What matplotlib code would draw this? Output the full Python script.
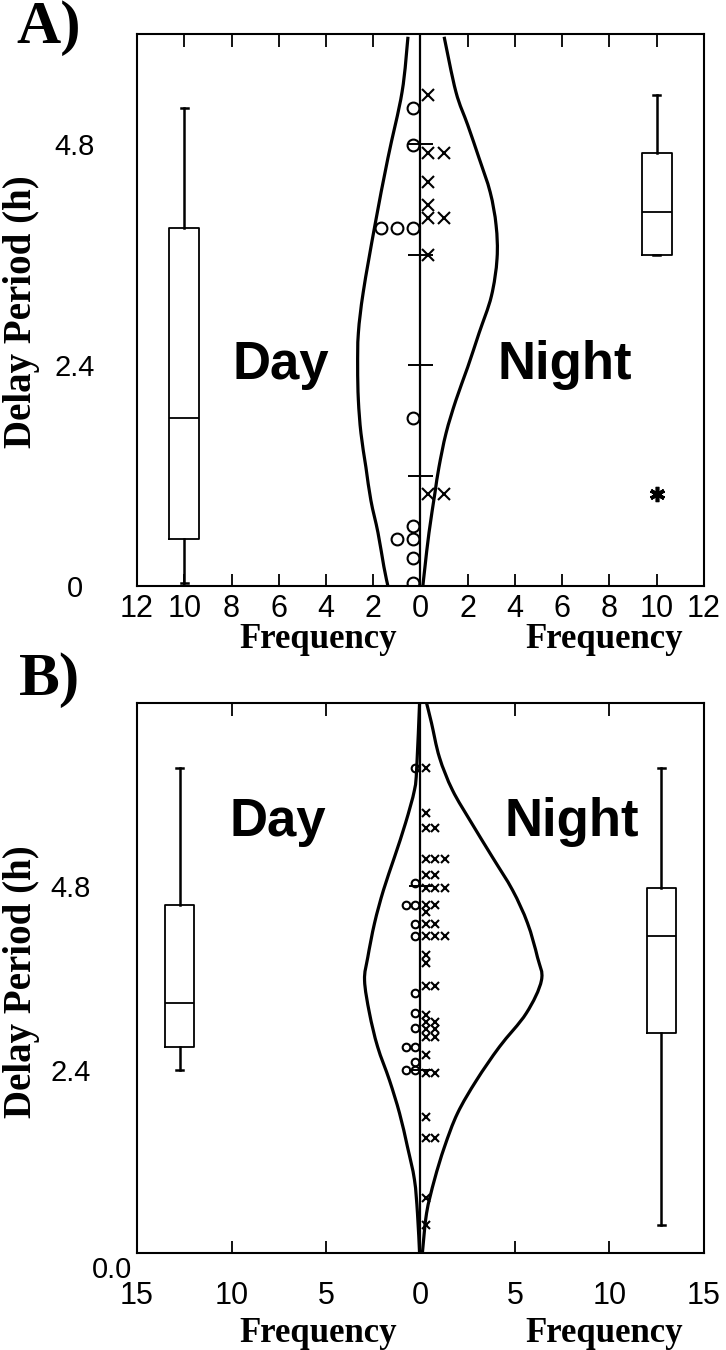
import numpy as np
import matplotlib.pyplot as plt
from matplotlib.path import Path
from matplotlib.patches import PathPatch

# Panel A: delay periods (h) of single observations
a_day = [5.20, 4.79, 3.89, 3.89, 3.89, 1.83, 0.65, 0.51, 0.51, 0.30, 0.03]
a_night = [5.34, 4.71, 4.71, 4.39, 4.14, 4.00, 4.00, 3.60, 1.00, 1.00]

# Panel A: smoothed frequency outlines (delay, frequency)
a_day_curve_y = [0.0, 0.21, 0.58, 0.93, 1.29, 1.66, 2.02, 2.38, 2.75, 3.20, 3.92, 4.65, 5.37, 5.97]
a_day_curve_f = [1.38, 1.55, 1.80, 2.10, 2.31, 2.52, 2.63, 2.66, 2.63, 2.42, 1.93, 1.38, 0.78, 0.53]
a_night_curve_y = [0.0, 0.21, 0.58, 1.01, 1.29, 1.66, 2.02, 2.38, 2.75, 3.15, 3.56, 3.92, 4.28, 4.65, 5.01, 5.37, 5.97]
a_night_curve_f = [0.10, 0.19, 0.36, 0.61, 0.78, 1.08, 1.50, 2.00, 2.48, 3.00, 3.24, 3.20, 2.95, 2.48, 2.00, 1.50, 1.00]

# Panel B
b_day = [6.35, 4.84, 4.55, 4.55, 4.31, 4.15, 3.40, 3.14, 2.95, 2.70, 2.70, 2.50, 2.40, 2.40]
b_night = [6.35, 5.76, 5.56, 5.56, 5.16, 5.16, 5.16, 4.95, 4.95, 4.78, 4.78, 4.78,
           4.55, 4.55, 4.46, 4.31, 4.31, 4.15, 4.15, 4.15, 3.90, 3.80, 3.49, 3.49,
           3.12, 3.02, 3.02, 2.93, 2.93, 2.83, 2.83, 2.59, 2.36, 2.36, 1.78, 1.51, 1.51,
           0.72, 0.37]

b_day_curve_y = [0.0, 0.52, 0.96, 1.39, 1.83, 2.26, 2.70, 3.14, 3.57, 3.87, 4.32, 4.75, 5.18, 5.63, 6.06, 6.35, 7.20]
b_day_curve_f = [0.05, 0.16, 0.32, 0.69, 1.11, 1.64, 2.27, 2.70, 2.96, 2.79, 2.43, 1.96, 1.38, 0.79, 0.32, 0.20, 0.05]
b_night_curve_y = [0.0, 0.52, 0.96, 1.39, 1.83, 2.26, 2.70, 3.14, 3.57, 3.87, 4.32, 4.75, 5.18, 5.63, 6.06, 6.49, 6.94, 7.20]
b_night_curve_f = [0.10, 0.32, 0.74, 1.27, 1.96, 2.96, 4.18, 5.60, 6.40, 6.19, 5.66, 4.87, 3.81, 2.70, 1.69, 1.00, 0.58, 0.32]


def stack(vals, first, step):
    # repeated values are piled up sideways
    xs, seen = [], {}
    for v in vals:
        i = seen.get(v, 0)
        xs.append(first + step * i)
        seen[v] = i + 1
    return np.array(xs)


def hinges(vals):
    v = np.sort(np.asarray(vals))
    n = len(v)
    q1 = np.median(v[:(n + 1) // 2])
    q3 = np.median(v[n // 2:])
    fence = 1.5 * (q3 - q1)
    ok = (v >= q1 - fence) & (v <= q3 + fence)
    return dict(med=np.median(v), q1=q1, q3=q3, whislo=v[ok].min(),
                whishi=v[ok].max(), fliers=np.unique(v[~ok]))


def smooth_line(ax, xs, ys, **kw):
    # bezier path through the read points
    p = np.column_stack([xs, ys])
    verts, codes = [p[0]], [Path.MOVETO]
    for i in range(len(p) - 1):
        p0 = p[max(i - 1, 0)]
        p1, p2 = p[i], p[i + 1]
        p3 = p[min(i + 2, len(p) - 1)]
        verts += [p1 + (p2 - p0) / 6, p2 - (p3 - p1) / 6, p2]
        codes += [Path.CURVE4] * 3
    ax.add_patch(PathPatch(Path(verts, codes), fill=False, **kw))


def panel(ax, day, night, dcy, dcf, ncy, ncf, lim, ymax, box_x, first, step, msize, center_ticks, tick_half):
    ax.set_xlim(-lim, lim)
    ax.set_ylim(0, ymax)
    ax.axvline(0, color='k', lw=1.6, zorder=2)
    ax.hlines(center_ticks, -tick_half, tick_half, color='k', lw=1.4)
    smooth_line(ax, -np.array(dcf), dcy, color='k', lw=2.3)
    smooth_line(ax, ncf, ncy, color='k', lw=2.3)
    ax.plot(-stack(day, first, step), day, 'o', ms=msize, mfc='none', mec='k', mew=1.5)
    ax.plot(stack(night, first, step), night, 'x', ms=msize, mec='k', mew=1.5)

    st = [hinges(day), hinges(night)]
    ax.bxp(st, positions=[-box_x, box_x], widths=lim / 9.5, capwidths=lim / 40,
           boxprops=dict(lw=1.3), whiskerprops=dict(lw=1.8), capprops=dict(lw=1.8),
           medianprops=dict(color='k', lw=1.3),
           flierprops=dict(marker=(6, 2, 0), ms=11, mec='k', mew=2.6), manage_ticks=False)

    for s in ax.spines.values():
        s.set_linewidth(1.5)
    ax.tick_params(axis='x', which='both', direction='in', top=True, length=9, width=1.3,
                   labelsize=22)
    ax.tick_params(axis='y', direction='in', length=0, labelsize=21)


fig = plt.figure(figsize=(7.26, 13.5), dpi=100)
plt.rcParams['font.family'] = ['Liberation Sans Narrow', 'Liberation Sans', 'DejaVu Sans']

ax1 = fig.add_axes([137 / 726, 1 - 586 / 1350, 567 / 726, 552 / 1350])
panel(ax1, a_day, a_night, a_day_curve_y, a_day_curve_f, a_night_curve_y, a_night_curve_f,
      12, 6.0, 10, 0.32, 0.67, 8.5, [1.2, 2.4, 3.6, 4.8], 0.55)
ax1.set_xticks(np.arange(-12, 13, 2))
ax1.set_xticklabels([str(abs(t)) for t in range(-12, 13, 2)])
ax1.set_yticks([0, 2.4, 4.8])
ax1.set_yticklabels(['0', '2.4', '4.8'])
ax1.tick_params(axis='x', pad=6)
ax1.tick_params(axis='y', pad=45)

ax2 = fig.add_axes([137 / 726, 1 - 1253 / 1350, 567 / 726, 550 / 1350])
panel(ax2, b_day, b_night, b_day_curve_y, b_day_curve_f, b_night_curve_y, b_night_curve_f,
      15, 7.2, 12.75, 0.29, 0.5, 5.5, [2.4, 4.8], 0.6)
ax2.set_xticks(np.arange(-15, 16, 5))
ax2.set_xticklabels([str(abs(t)) for t in range(-15, 16, 5)])
ax2.set_yticks([2.4, 4.8])
ax2.set_yticklabels(['2.4', '4.8'])
ax2.tick_params(axis='x', pad=20)
ax2.tick_params(axis='y', pad=48)
ax2.text(-0.044, -0.030, '0.0', transform=ax2.transAxes, ha='center', va='center', fontsize=21)

for ax in (ax1, ax2):
    for lab in ax.get_yticklabels():
        lab.set_horizontalalignment('center')

big = dict(fontsize=38, fontweight='bold', family=['Liberation Sans', 'DejaVu Sans'], ha='center', va='center')
ax1.text(0.254, 0.40, 'Day', transform=ax1.transAxes, **big)
ax1.text(0.755, 0.40, 'Night', transform=ax1.transAxes, **big)
ax2.text(0.249, 0.784, 'Day', transform=ax2.transAxes, **big)
ax2.text(0.767, 0.784, 'Night', transform=ax2.transAxes, **big)

serif = dict(fontweight='bold', family=['Liberation Serif', 'DejaVu Serif'], ha='center', va='center')
for ylab in (312, 982):
    fig.text(22 / 726, 1 - ylab / 1350, 'Delay Period (h)', rotation=90, fontsize=28, **serif)
for yy in (640, 1333):
    fig.text(318 / 726, 1 - yy / 1350, 'Frequency', fontsize=25, **serif)
    fig.text(604 / 726, 1 - yy / 1350, 'Frequency', fontsize=25, **serif)
fig.text(49 / 726, 1 - 28 / 1350, 'A)', fontsize=44, **serif)
fig.text(49 / 726, 1 - 680 / 1350, 'B)', fontsize=44, **serif)

fig.savefig('out.png', dpi=100)
